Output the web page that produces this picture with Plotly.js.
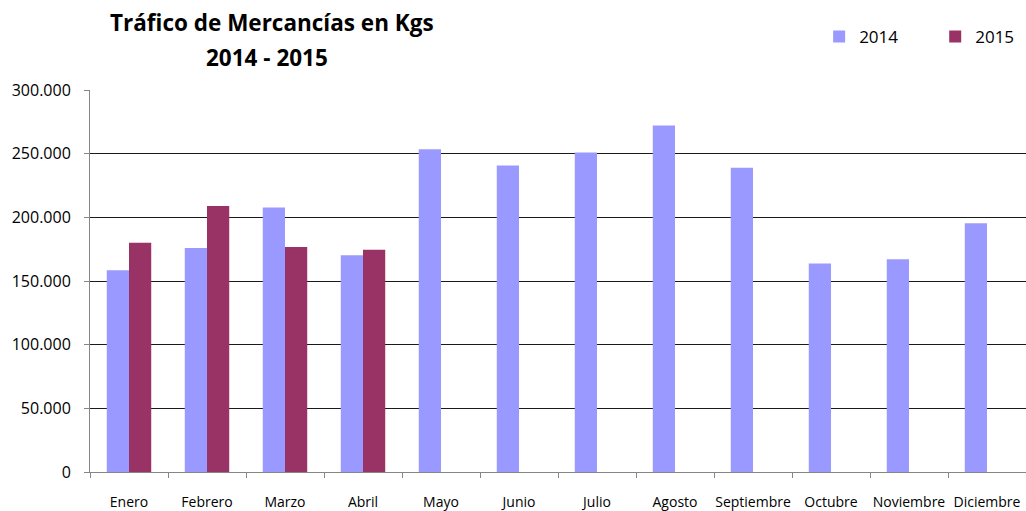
<!DOCTYPE html>
<html>
<head>
<meta charset="utf-8">
<script src="https://cdn.plot.ly/plotly-3.0.1.min.js"></script>
<style>html,body{margin:0;padding:0;background:#fff;}#chart{width:1026px;height:511px;}</style>
</head>
<body>
<div id="chart"></div>
<script>
const months = ["Enero","Febrero","Marzo","Abril","Mayo","Junio","Julio","Agosto","Septiembre","Octubre","Noviembre","Diciembre"];
const values2014 = [158400,175900,207800,170200,253400,240800,251000,272200,239000,163700,167000,195300];
const values2015 = [180100,208900,176700,174600,null,null,null,null,null,null,null,null];
const seriesNames = ["2014","2015"];
const yTicks = [0,50000,100000,150000,200000,250000,300000];

const FONT = "Open Sans, sans-serif";

const traces = [
  {type:"bar", name:seriesNames[0], x:months, y:values2014, marker:{color:"#9999FF"}, legend:"legend"},
  {type:"bar", name:seriesNames[1], x:months, y:values2015, marker:{color:"#993366"}, legend:"legend2"}
];

const legendBase = {orientation:"h", xanchor:"left", y:1.139, yanchor:"middle",
          font:{family:FONT, size:17, color:"#000"}, bgcolor:"rgba(0,0,0,0)"};

const layout = {
  width:1026, height:511,
  margin:{l:90, r:0, t:90, b:39, pad:0},
  paper_bgcolor:"#ffffff", plot_bgcolor:"#ffffff",
  separators:",.",
  barmode:"group", bargap:0.43, bargroupgap:0,
  font:{family:FONT, color:"#000"},
  showlegend:true,
  legend:Object.assign({}, legendBase, {x:0.779}),
  legend2:Object.assign({}, legendBase, {x:0.903}),
  xaxis:{type:"category", tickson:"boundaries", ticks:"outside", ticklen:5, tickcolor:"#868686",
         showline:true, linecolor:"#868686", linewidth:1, showgrid:false, tickangle:0,
         tickfont:{family:FONT, size:14, color:"#000"}, ticklabelstandoff:17, fixedrange:true},
  yaxis:{range:[0,300000], tickvals:yTicks, tickformat:",.0f", ticks:"outside", ticklen:5, tickcolor:"#868686",
         showline:true, linecolor:"#868686", linewidth:1, showgrid:true, gridcolor:"#1a1a1a", gridwidth:1,
         zeroline:false, tickfont:{family:FONT, size:16, color:"#000"}, ticklabelstandoff:10, fixedrange:true},
  annotations:[
    {text:"<b>Tráfico de Mercancías en Kgs</b>", xref:"paper", yref:"paper", x:0.1944, y:1.178,
     xanchor:"center", yanchor:"middle", showarrow:false, font:{family:FONT, size:22.5, color:"#000"}},
    {text:"<b>2014 - 2015</b>", xref:"paper", yref:"paper", x:0.1891, y:1.086,
     xanchor:"center", yanchor:"middle", showarrow:false, font:{family:FONT, size:22.5, color:"#000"}}
  ],
  hovermode:false
};

Plotly.newPlot("chart", traces, layout, {displayModeBar:false, staticPlot:true});
</script>
</body>
</html>
